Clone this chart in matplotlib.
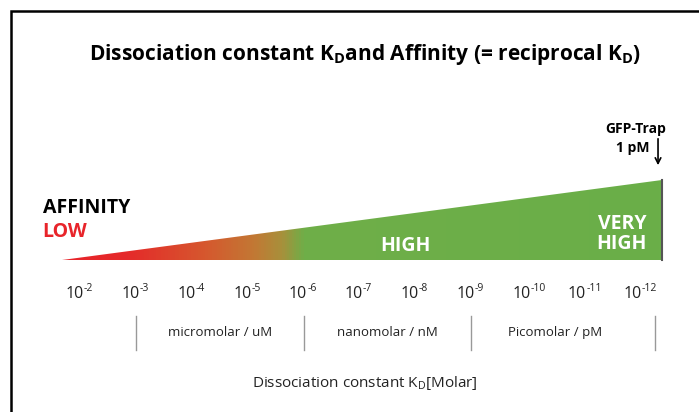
import numpy as np
import matplotlib
matplotlib.use("Agg")
import matplotlib.pyplot as plt
from matplotlib.colors import LinearSegmentedColormap
from matplotlib.patches import Polygon

plt.rcParams['font.family'] = ['Open Sans', 'DejaVu Sans']
plt.rcParams['mathtext.fontset'] = 'custom'
plt.rcParams['mathtext.rm'] = 'Open Sans'
plt.rcParams['mathtext.bf'] = 'Open Sans:bold'

# data: exponents of Kd (10^-n Molar)
kd_exponents = [2, 3, 4, 5, 6, 7, 8, 9, 10, 11, 12]
unit_bounds = [3, 6, 9, 12.3]
unit_labels = ["micromolar / uM", "nanomolar / nM", "Picomolar / pM"]
wedge_start, wedge_end = 1.67, 12.42
wedge_height = 1.0
gfp_trap_exp = 12.35

# gradient stops along the exponent axis
grad_pos = [1.67, 2.8, 4.2, 5.1, 5.6, 6.0, 12.42]
grad_cols = ["#e8242a", "#e5292a", "#d6572e", "#c27834", "#a8903b", "#6fae48", "#6aaf48"]

fig = plt.figure(figsize=(6.99, 4.12), dpi=100)
ax = fig.add_axes([0, 0, 1, 1])
px = 55.8  # pixels per decade
x0 = 2 - 80.5 / px
x1 = 2 + (699 - 80.5) / px
ax.set_xlim(x0, x1)
ax.set_ylim(-152 / 80, (412 - 152) / 80)
ax.axis('off')

# frame
ax.plot([0.016, 0.016, 1.01], [-0.01, 0.973, 0.973], transform=ax.transAxes,
        color='black', lw=1.8, clip_on=False, solid_joinstyle='miter')

# gradient wedge
stops = [(p - wedge_start) / (wedge_end - wedge_start) for p in grad_pos]
cmap = LinearSegmentedColormap.from_list('aff', list(zip(stops, grad_cols)))
grad = np.linspace(0, 1, 600).reshape(1, -1)
im = ax.imshow(grad, cmap=cmap, aspect='auto',
               extent=[wedge_start, wedge_end, 0, wedge_height], zorder=1)
tri = Polygon([[wedge_start, 0], [wedge_end, 0], [wedge_end, wedge_height]],
              closed=True, transform=ax.transData, facecolor='none', edgecolor='none')
ax.add_patch(tri)
im.set_clip_path(tri)
ax.plot([wedge_end, wedge_end], [0, wedge_height], color='#555555', lw=1.5, zorder=2)

# tick labels: "10" with a small superscript exponent
for e in kd_exponents:
    ax.annotate('10', xy=(e, -0.43), xytext=(2.5, 0), textcoords='offset points',
                ha='right', va='center', fontsize=11.5, color='#222222')
    ax.annotate('-%d' % e, xy=(e, -0.43), xytext=(2.5, 4), textcoords='offset points',
                ha='left', va='center', fontsize=7.5, color='#222222')

# unit separators and labels
for b in unit_bounds:
    ax.plot([b, b], [-0.7, -1.12], color='#999999', lw=1)
for i, lab in enumerate(unit_labels):
    mid = (unit_bounds[i] + min(unit_bounds[i + 1], 12)) / 2
    ax.text(mid, -0.91, lab, ha='center', va='center', fontsize=9.5, color='#222222')

ax.text(0.522, 0.07, r'Dissociation constant K$\mathregular{_D}$[Molar]',
        transform=ax.transAxes, ha='center', va='center', fontsize=11, color='#222222')

# title
fig.text(0.522, 0.867, r'Dissociation constant K$\mathregular{_D}$and Affinity (= reciprocal K$\mathregular{_D}$)',
         ha='center', va='center', fontsize=15, fontweight='bold', color='black')

# labels on wedge
ax.text(0.061, 0.495, 'AFFINITY', transform=ax.transAxes, ha='left', va='center',
        fontsize=14, fontweight='bold', color='black')
ax.text(0.061, 0.438, 'LOW', transform=ax.transAxes, ha='left', va='center',
        fontsize=14, fontweight='bold', color='#e8242a')
ax.text(7.82, 0.17, 'HIGH', ha='center', va='center', fontsize=14, fontweight='bold', color='white')
ax.text(12.15, 0.32, 'VERY\nHIGH', ha='right', va='center', fontsize=14, fontweight='bold',
        color='white', linespacing=1.0)

# GFP-Trap annotation
ax.annotate('', xy=(gfp_trap_exp, 1.15), xytext=(gfp_trap_exp, 1.55),
            arrowprops=dict(arrowstyle='->', color='black', lw=1.2))
ax.text(12.5, 1.64, 'GFP-Trap', ha='right', va='center', fontsize=10, fontweight='bold')
ax.text(12.2, 1.4, '1 pM', ha='right', va='center', fontsize=10, fontweight='bold')

fig.savefig('out.png', dpi=100)
